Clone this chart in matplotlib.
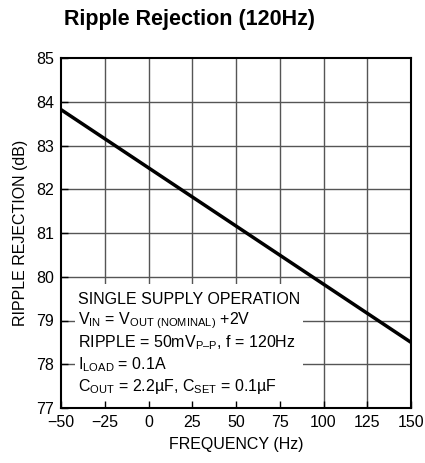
import matplotlib
matplotlib.use('Agg')
import matplotlib.pyplot as plt
from matplotlib.patches import Rectangle

# data
temp = [-50, 0, 50, 100, 150]
rejection = [83.82, 82.49, 81.16, 79.83, 78.5]
xticks = [-50, -25, 0, 25, 50, 75, 100, 125, 150]
yticks = [77, 78, 79, 80, 81, 82, 83, 84, 85]

fam = ['Liberation Sans', 'DejaVu Sans']
plt.rcParams['font.family'] = fam
plt.rcParams['mathtext.fontset'] = 'custom'
plt.rcParams['mathtext.rm'] = 'Liberation Sans'
plt.rcParams['mathtext.it'] = 'Liberation Sans'
plt.rcParams['mathtext.default'] = 'rm'

fig = plt.figure(figsize=(4.25, 4.63), dpi=100)
ax = fig.add_axes([61/425, 1 - 408/463, 350/425, 350/463])

ax.set_xlim(-50, 150)
ax.set_ylim(77, 85)
ax.set_xticks(xticks)
ax.set_yticks(yticks)
ax.set_xticklabels(['\u221250', '\u221225'] + [str(t) for t in xticks[2:]])
ax.tick_params(direction='in', length=5, width=1, labelsize=11.5, pad=5, colors='black')
ax.set_axisbelow(False)
for s in ax.spines.values():
    s.set_linewidth(1.5)

# grid drawn by hand so the text box can hide it but not the ticks
for t in xticks[1:-1]:
    ax.axvline(t, color='#555555', linewidth=1, zorder=1)
for t in yticks[1:-1]:
    ax.axhline(t, color='#555555', linewidth=1, zorder=1)

ax.plot(temp, rejection, color='black', linewidth=2.5, zorder=3)

# white box behind the conditions text
box = Rectangle((75/425, 1 - 408/463), (303 - 75)/425, (408 - 284)/463,
                facecolor='white', edgecolor='none', zorder=2)
ax.add_patch(box)
box.set_transform(fig.transFigure)

lines = ['SINGLE SUPPLY OPERATION',
         r'V$_{\mathrm{IN}}$ = V$_{\mathrm{OUT\ (NOMINAL)}}$ +2V',
         'RIPPLE = 50mV$_{\\mathrm{P\u2013P}}$, f = 120Hz',
         r'I$_{\mathrm{LOAD}}$ = 0.1A',
         'C$_{\\mathrm{OUT}}$ = 2.2\u00b5F, C$_{\\mathrm{SET}}$ = 0.1\u00b5F']
ys = [299, 321, 343, 365, 387]
for t, y in zip(lines, ys):
    fig.text(78/425, 1 - y/463, t, fontsize=11.5, va='center', ha='left', zorder=4)

ax.set_xlabel('FREQUENCY (Hz)', fontsize=11.5, labelpad=5)
ax.set_ylabel('RIPPLE REJECTION (dB)', fontsize=11.5, labelpad=6)
fig.text(189/425, 1 - 20/463, 'Ripple Rejection (120Hz)', fontsize=15.5,
         fontweight='bold', ha='center', va='center')

fig.savefig('out.png', dpi=100)
